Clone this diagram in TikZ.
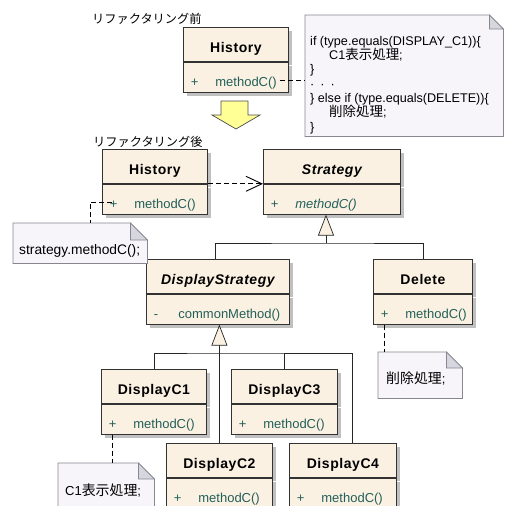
\documentclass[tikz,border=0pt]{standalone}
\usepackage{fontspec}
\setmainfont{Liberation Sans}
\newfontfamily\titlefont[LetterSpace=4]{Liberation Sans}
\newfontfamily\jp[Scale=1.07]{Noto Sans CJK JP}
\usepackage{tikz}
\usetikzlibrary{arrows.meta, positioning, calc, shadows}
\definecolor{classfill}{RGB}{251,241,226}
\definecolor{methodtext}{RGB}{35,95,90}
\definecolor{shadowgray}{RGB}{192,192,192}
\definecolor{notefill}{RGB}{247,245,249}
\definecolor{folddraw}{RGB}{135,135,145}
\definecolor{foldfill}{RGB}{214,214,222}
\definecolor{arrowyellow}{RGB}{255,255,150}

\tikzset{
  classhead/.style={draw=black!80, fill=classfill, line width=0.8pt, inner sep=0pt,
    anchor=north west, minimum width=#1, minimum height=34pt,
    text height=17pt, text depth=0pt,
    font=\titlefont\fontsize{14}{16}\selectfont\bfseries,
    drop shadow={shadow xshift=4pt, shadow yshift=-4pt, fill=shadowgray, opacity=1}},
  classbody/.style={draw=black!80, fill=classfill, line width=0.8pt, inner sep=0pt,
    text width=#1, align=left, minimum height=30pt,
    text height=18pt, text depth=0pt,
    font=\fontsize{13}{15}\selectfont, text=methodtext,
    drop shadow={shadow xshift=4pt, shadow yshift=-4pt, fill=shadowgray, opacity=1}},
  notebox/.style={inner sep=0pt, anchor=north west},
  notebody/.style={fill=notefill, draw=folddraw, line width=0.7pt},
  notefold/.style={fill=foldfill, draw=folddraw, line width=0.7pt},
  notetext/.style={inner sep=0pt, anchor=west, font=\fontsize{13}{15}\selectfont},
  phase/.style={inner sep=0pt, anchor=west, font=\jp\fontsize{11.4}{13}\selectfont},
  dashline/.style={dash pattern=on 5pt off 3pt, line width=0.9pt},
  genline/.style={line width=0.7pt, draw=black!85},
  gen/.style={genline, -{Triangle[length=21pt, width=16pt, fill=classfill]}},
  bigarrow/.style={draw=black!70, fill=arrowyellow, line width=0.7pt, line join=miter}
}
\newcommand{\visib}[1]{\hspace*{7.5pt}\makebox[24.5pt][l]{#1}}
\newcommand{\dogear}[2]{%
  \filldraw[notebody] (#1.north west) -- ([xshift=-#2pt]#1.north east)
    -- ([yshift=-#2pt]#1.north east) -- (#1.south east) -- (#1.south west) -- cycle;
  \filldraw[notefold] ([xshift=-#2pt]#1.north east) -- ([xshift=-#2pt,yshift=-#2pt]#1.north east)
    -- ([yshift=-#2pt]#1.north east) -- cycle;}

\begin{document}
\begin{tikzpicture}[x=1pt, y=-1pt]
  \useasboundingbox (0,0) rectangle (504,506);
  % Headings
  \node[phase] (before) at (92,19) {リファクタリング前};
  \node[phase] (after) at (93,142) {リファクタリング後};

  % Before refactoring
  \node[classhead=105pt] (hist1h) at (183,27) {History};
  \node[classbody=105pt, below=0pt of hist1h] (hist1b) {\visib{+}methodC()};
  \node[notebox, minimum width=198pt, minimum height=121pt] (topnote) at (305,15) {};
  \dogear{topnote}{14}
  \node[notetext, anchor=north west, align=left, font=\fontsize{12.6}{14.33}\selectfont]
    (topnotetxt) at (310,36) {if (type.equals(DISPLAY\_C1))\{\\
    \hspace*{19pt}C1{\jp 表示処理};\\
    \}\\
    ·\hspace{6pt}·\hspace{6pt}·\\
    \} else if (type.equals(DELETE))\{\\
    \hspace*{19pt}{\jp 削除処理};\\
    \}};
  \coordinate (hist1end) at ($(hist1b.east)+(-9,3)$);
  \draw[dashline] (hist1end) -- (topnote.west |- hist1end);

  % Big arrow
  \filldraw[bigarrow] (221,101) -- (248,101) -- (248,115) -- (260,115) -- (236,129)
    -- (212,115) -- (221,115) -- cycle;

  % After refactoring
  \node[classhead=105pt] (hist2h) at (102,149) {History};
  \node[classbody=105pt, below=0pt of hist2h] (hist2b) {\visib{+}methodC()};
  \node[classhead=137pt] (strath) at (263,149) {\itshape Strategy};
  \node[classbody=137pt, below=0pt of strath] (stratb) {\visib{+}\textit{methodC()}};
  \node[classhead=143pt] (dstrath) at (146,259) {\itshape DisplayStrategy};
  \node[classbody=143pt, below=0pt of dstrath] (dstratb) {\visib{-}commonMethod()};
  \node[classhead=99pt] (delh) at (373,259) {Delete};
  \node[classbody=99pt, below=0pt of delh] (delb) {\visib{+}methodC()};
  \node[classhead=105pt] (c1h) at (101,369) {DisplayC1};
  \node[classbody=105pt, below=0pt of c1h] (c1b) {\visib{+}methodC()};
  \node[classhead=106pt] (c3h) at (231,369) {DisplayC3};
  \node[classbody=106pt, below=0pt of c3h] (c3b) {\visib{+}methodC()};
  \node[classhead=106pt] (c2h) at (166,443) {DisplayC2};
  \node[classbody=106pt, below=0pt of c2h] (c2b) {\visib{+}methodC()};
  \node[classhead=107pt] (c4h) at (289,443) {DisplayC4};
  \node[classbody=107pt, below=0pt of c4h] (c4b) {\visib{+}methodC()};

  % Notes
  \node[notebox, minimum width=134pt, minimum height=40pt] (stratnote) at (13,223) {};
  \dogear{stratnote}{17}
  \node[notetext, font=\fontsize{13.8}{15}\selectfont] (stratnotetxt) at (19,251) {strategy.methodC();};
  \node[notebox, minimum width=84pt, minimum height=46pt] (delnote) at (378,352) {};
  \dogear{delnote}{16}
  \node[notetext] (delnotetxt) at (386,378) {{\jp 削除処理};};
  \node[notebox, minimum width=96pt, minimum height=54pt] (c1note) at (58,463) {};
  \dogear{c1note}{16}
  \node[notetext] (c1notetxt) at (65,490) {C1{\jp 表示処理};};

  % Dependency
  \draw[dashline, -{Straight Barb[length=16pt, width=15pt, line width=0.9pt]}]
    (hist2h.south east) -- (hist2h.south east -| strath.west);

  % Note links
  \coordinate (hist2plus) at ($(hist2b.west)+(10,3)$);
  \draw[dashline] (hist2plus) -| ($(stratnote.north west)+(77,0)$);
  \coordinate (delplus) at ($(delb.south west)+(11,0)$);
  \draw[dashline] (delplus) -- (delplus |- delnote.north);
  \coordinate (c1plus) at ($(c1b.south west)+(11,0)$);
  \draw[dashline] (c1plus) -- (c1plus |- c1note.north);

  % Generalization
  \coordinate (sjoin) at (326,243);
  \draw[gen] (sjoin) -- (sjoin |- stratb.south);
  \draw[genline] ([xshift=-3pt]dstrath.north) |- (sjoin) -| (delh.north);
  \coordinate (djoin) at (219,353);
  \draw[gen] (c2h.north) -- (c2h.north |- dstratb.south);
  \draw[genline] (c1h.north) |- (djoin) -| ([xshift=9.5pt]c4h.north);
  \draw[genline] (c3h.north) -- (c3h.north |- djoin);
\end{tikzpicture}
\end{document}
